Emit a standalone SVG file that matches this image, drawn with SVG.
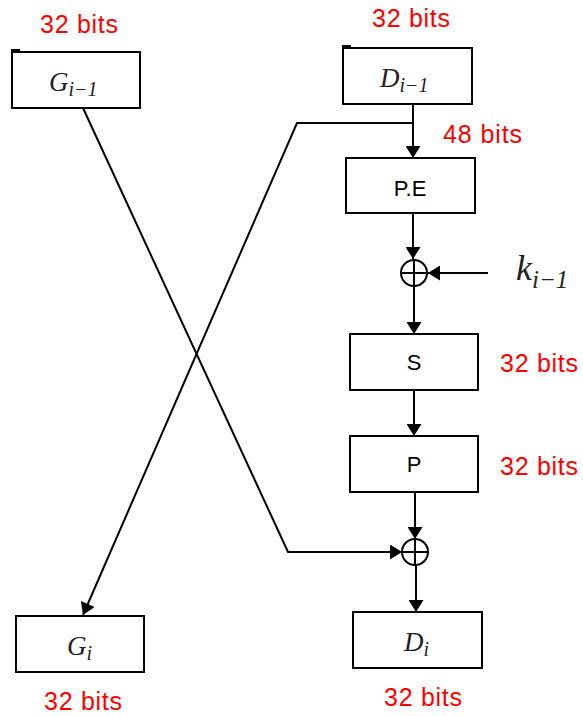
<svg xmlns="http://www.w3.org/2000/svg" width="583" height="716" viewBox="0 0 583 716">
<defs>
<marker id="ah" viewBox="0 0 12 15" refX="12" refY="7.5" markerWidth="13" markerHeight="15" markerUnits="userSpaceOnUse" orient="auto">
<path d="M0,0 L12,7.5 L0,15 Z" fill="#000"/>
</marker>
</defs>
<style>
.box{fill:#fff;stroke:#000;stroke-width:2}
.lbl{font-family:"Liberation Sans",Arial,sans-serif;font-size:25px;fill:#ff0000}
.txt{font-family:"Liberation Sans",Arial,sans-serif;font-size:22px;fill:#000;text-anchor:middle}
.math{font-family:"Liberation Serif","DejaVu Serif",serif;font-style:italic;fill:#222}
.ln{fill:none;stroke:#000;stroke-width:2}
.arr{fill:none;stroke:#000;stroke-width:2;marker-end:url(#ah)}
</style>
<rect width="583" height="716" fill="#fff"/>

<g id="connectors">
<path class="arr" d="M413,104 L413,158"/>
<path class="arr" d="M413,123 L297,123 L83,615"/>
<path class="arr" d="M413,213 L413,259"/>
<path class="arr" d="M488,273 L428,273"/>
<path class="arr" d="M414,286 L414,334"/>
<path class="arr" d="M414,390 L414,436"/>
<path class="arr" d="M415,492 L415,539"/>
<path class="arr" d="M83,108 L288,552 L402,552"/>
<path class="arr" d="M416,565 L416,612"/>
</g>

<g id="G_prev">
<rect class="box" x="12" y="52" width="128" height="56"/>
<path class="ln" d="M12,52 L12,50 L20,50"/>
<text class="math" x="49" y="91" font-size="27">G<tspan font-size="20" dy="5">i−1</tspan></text>
</g>

<g id="D_prev">
<rect class="box" x="343" y="48" width="129" height="56"/>
<path class="ln" d="M343,48 L343,46 L351,46"/>
<text class="math" x="380" y="87" font-size="27">D<tspan font-size="20" dy="5">i−1</tspan></text>
</g>

<g id="PE">
<rect class="box" x="346" y="158" width="129" height="55"/>
<text class="txt" x="410" y="196">P.E</text>
</g>

<g id="xor1">
<circle class="ln" cx="414" cy="273" r="13"/>
<path class="ln" d="M401,273 L427,273 M414,260 L414,286"/>
</g>

<g id="k">
<text class="math" x="516" y="280" font-size="36">k<tspan font-size="25" dy="8">i−1</tspan></text>
</g>

<g id="S">
<rect class="box" x="350" y="334" width="128" height="56"/>
<text class="txt" x="414" y="370">S</text>
</g>

<g id="P">
<rect class="box" x="350" y="436" width="128" height="56"/>
<text class="txt" x="414" y="472">P</text>
</g>

<g id="xor2">
<circle class="ln" cx="415" cy="552" r="13"/>
<path class="ln" d="M402,552 L428,552 M415,539 L415,565"/>
</g>

<g id="G_i">
<rect class="box" x="16" y="616" width="128" height="56"/>
<text class="math" x="67" y="655" font-size="27">G<tspan font-size="20" dy="5">i</tspan></text>
</g>

<g id="D_i">
<rect class="box" x="353" y="612" width="129" height="56"/>
<text class="math" x="404" y="651" font-size="27">D<tspan font-size="20" dy="5">i</tspan></text>
</g>

<g id="labels">
<text class="lbl" x="40" y="33" textLength="78">32 bits</text>
<text class="lbl" x="372" y="27" textLength="78">32 bits</text>
<text class="lbl" x="443" y="143" textLength="79">48 bits</text>
<text class="lbl" x="500" y="372" textLength="78">32 bits</text>
<text class="lbl" x="500" y="475" textLength="78">32 bits</text>
<text class="lbl" x="44" y="710" textLength="78">32 bits</text>
<text class="lbl" x="384" y="706" textLength="78">32 bits</text>
</g>
</svg>
